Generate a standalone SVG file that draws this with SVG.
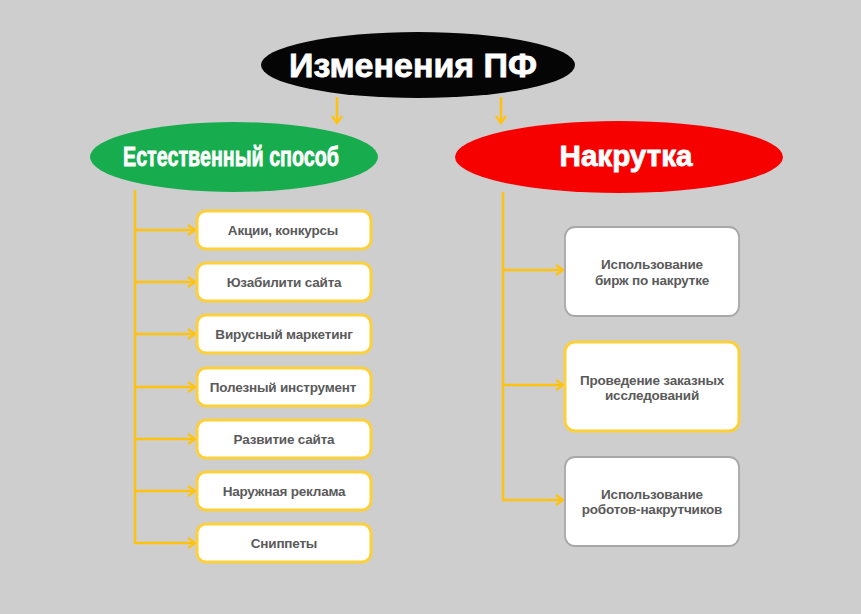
<svg xmlns="http://www.w3.org/2000/svg" width="861" height="614" viewBox="0 0 861 614">
<defs>
<marker id="ah" markerWidth="10" markerHeight="12" refX="8" refY="6" orient="auto" markerUnits="userSpaceOnUse">
<polyline points="1,1 8,6 1,11" fill="none" stroke="#ffc20e" stroke-width="2.2"/>
</marker>
<style>
.ln{fill:none;stroke:#ffc20e;stroke-width:2.4}
.ar{fill:none;stroke:#ffc20e;stroke-width:2.4;marker-end:url(#ah)}
.by{fill:#fff;stroke:#fcd03a;stroke-width:3}
.bg{fill:#fff;stroke:#a8a8a8;stroke-width:1.8}
.bt{font-family:"Liberation Sans",Arial,sans-serif;font-weight:bold;font-size:13.5px;fill:#5a5a5a;text-anchor:middle;letter-spacing:-0.2px}
.ht{font-family:"Liberation Sans",Arial,sans-serif;font-weight:bold;fill:#fff;stroke:#fff;stroke-width:0.8;text-anchor:middle}
</style>
</defs>
<rect width="861" height="614" fill="#cecece"/>
<g id="connectors">
<line class="ar" x1="337" y1="97" x2="337" y2="123"/>
<line class="ar" x1="501" y1="97" x2="501" y2="123"/>
<polyline class="ln" points="135,190 135,543"/>
<line class="ar" x1="135" y1="230" x2="195" y2="230"/>
<line class="ar" x1="135" y1="282" x2="195" y2="282"/>
<line class="ar" x1="135" y1="334" x2="195" y2="334"/>
<line class="ar" x1="135" y1="387" x2="195" y2="387"/>
<line class="ar" x1="135" y1="439" x2="195" y2="439"/>
<line class="ar" x1="135" y1="491" x2="195" y2="491"/>
<line class="ar" x1="134" y1="543" x2="195" y2="543"/>
<polyline class="ln" points="503,192 503,500"/>
<line class="ar" x1="503" y1="270" x2="563" y2="270"/>
<line class="ar" x1="503" y1="385" x2="563" y2="385"/>
<line class="ar" x1="502" y1="500" x2="563" y2="500"/>
</g>
<g id="root">
<ellipse cx="418" cy="65" rx="157" ry="33" fill="#050505"/>
<text class="ht" x="413" y="77" font-size="34" textLength="248" lengthAdjust="spacingAndGlyphs">Изменения ПФ</text>
</g>
<g id="natural">
<ellipse cx="234" cy="157" rx="144" ry="35" fill="#17ad4e"/>
<text class="ht" x="231" y="166" font-size="28" textLength="216" lengthAdjust="spacingAndGlyphs">Естественный способ</text>
</g>
<g id="cheat">
<ellipse cx="619" cy="157" rx="164" ry="36" fill="#f70000"/>
<text class="ht" x="626" y="166" font-size="29" textLength="133" lengthAdjust="spacingAndGlyphs">Накрутка</text>
</g>
<g id="n1"><rect class="by" x="197" y="211" width="174" height="38" rx="9"/><text class="bt" x="283" y="235">Акции, конкурсы</text></g>
<g id="n2"><rect class="by" x="197" y="263" width="174" height="38" rx="9"/><text class="bt" x="284" y="287">Юзабилити сайта</text></g>
<g id="n3"><rect class="by" x="197" y="315" width="174" height="38" rx="9"/><text class="bt" x="284" y="339">Вирусный маркетинг</text></g>
<g id="n4"><rect class="by" x="197" y="368" width="174" height="38" rx="9"/><text class="bt" x="283" y="392">Полезный инструмент</text></g>
<g id="n5"><rect class="by" x="197" y="420" width="174" height="38" rx="9"/><text class="bt" x="284" y="444">Развитие сайта</text></g>
<g id="n6"><rect class="by" x="197" y="472" width="174" height="38" rx="9"/><text class="bt" x="284" y="496">Наружная реклама</text></g>
<g id="n7"><rect class="by" x="197" y="524" width="174" height="38" rx="9"/><text class="bt" x="284" y="548">Сниппеты</text></g>
<g id="r1"><rect class="bg" x="565" y="227" width="174" height="89" rx="10"/><text class="bt" x="652" y="269">Использование</text><text class="bt" x="652" y="285">бирж по накрутке</text></g>
<g id="r2"><rect class="by" x="565" y="342" width="174" height="89" rx="10"/><text class="bt" x="652" y="385">Проведение заказных</text><text class="bt" x="652" y="400">исследований</text></g>
<g id="r3"><rect class="bg" x="565" y="457" width="174" height="89" rx="10"/><text class="bt" x="652" y="499">Использование</text><text class="bt" x="652" y="514">роботов-накрутчиков</text></g>
</svg>
